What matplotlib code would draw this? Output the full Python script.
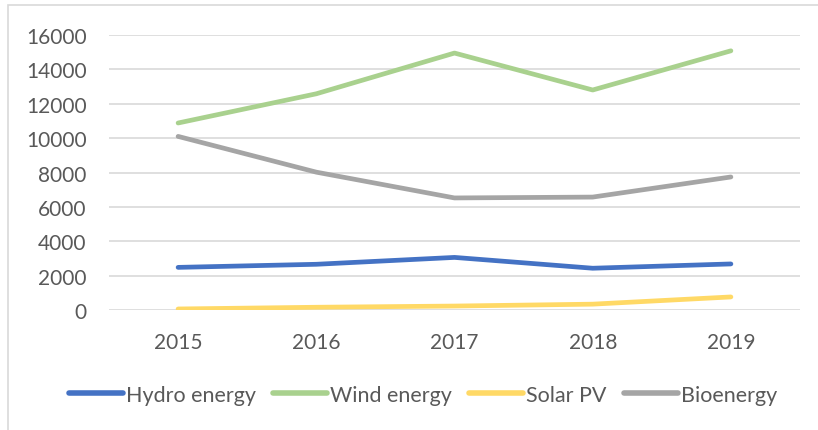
import matplotlib.pyplot as plt
from matplotlib.patches import Rectangle

years = ['2015', '2016', '2017', '2018', '2019']
hydro = [2480, 2660, 3060, 2430, 2680]
wind = [10880, 12580, 14950, 12800, 15080]
solar = [60, 160, 230, 340, 760]
bio = [10100, 8020, 6520, 6570, 7740]

plt.rcParams['font.family'] = ['Lato', 'DejaVu Sans']

fig = plt.figure(figsize=(8.18, 4.31), dpi=100)
ax = fig.add_axes([109 / 818, 1 - 311 / 431, 691 / 818, 275 / 431])

# outer chart frame (partially cropped like the original)
fig.patches.append(Rectangle((8 / 818, -0.05), 1.1, 1 - 6 / 431 + 0.05,
                             transform=fig.transFigure, fill=False,
                             edgecolor='#d9d9d9', linewidth=1.2))

x = range(len(years))
series = [('Hydro energy', hydro, '#4472C4'),
          ('Wind energy', wind, '#A9D18E'),
          ('Solar PV', solar, '#FFD966'),
          ('Bioenergy', bio, '#A5A5A5')]
for name, vals, col in series:
    ax.plot(x, vals, color=col, linewidth=3.4, label=name,
            solid_capstyle='round', solid_joinstyle='round')

ax.set_xlim(-0.5, 4.5)
ax.set_ylim(0, 16000)
ax.set_yticks(range(0, 16001, 2000))
ax.set_xticks(list(x))
ax.set_xticklabels(years)
ax.grid(axis='y', color='#d9d9d9', linewidth=1.2)
ax.set_axisbelow(True)
for s in ax.spines.values():
    s.set_visible(False)
ax.tick_params(length=0, labelsize=15, colors='#595959')
ax.tick_params(axis='y', pad=16)
ax.tick_params(axis='x', pad=16)

leg = fig.legend(loc='center', bbox_to_anchor=(423 / 818, 1 - 396 / 431), ncol=4,
                 frameon=False, fontsize=15.5, handlelength=2.5,
                 handletextpad=0.15, columnspacing=0.8)
for t in leg.get_texts():
    t.set_color('#595959')
for h in leg.get_lines():
    h.set_linewidth(4)
    h.set_solid_capstyle('round')

fig.savefig('out.png', dpi=100)
